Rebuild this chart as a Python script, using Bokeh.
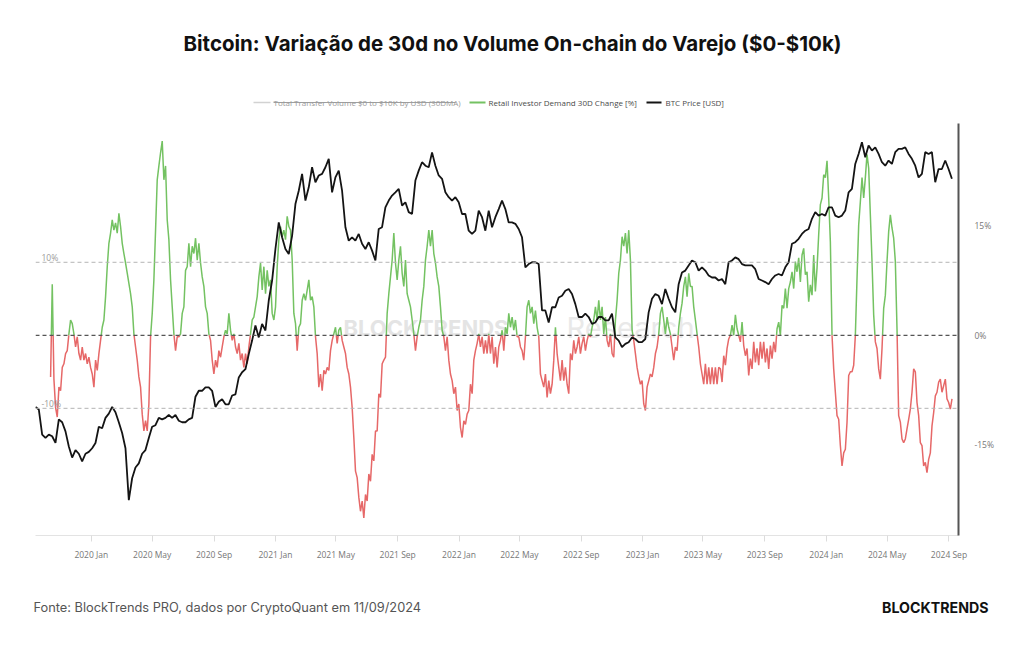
import numpy as np
import pandas as pd
from bokeh.plotting import figure
from bokeh.layouts import column, row
from bokeh.models import (Range1d, LogScale, FixedTicker, DatetimeTickFormatter,
                          PrintfTickFormatter, Span, Label)
from bokeh.embed import file_html
from bokeh.resources import INLINE

# ---------------------------------------------------------------- data
# BTC daily close, sampled every 159 hours, in thousands of USD
btc_start = "2019-09-12"
btc_step_hours = 159
btc_price_k = [
    10.2, 10.0, 8.3, 8.1, 8.3, 8.2, 7.8, 9.3, 9.1, 8.5,
    7.6, 7.0, 7.4, 7.2, 6.8, 7.2, 7.3, 7.5, 7.8, 8.8,
    8.7, 9.4, 9.7, 10.2, 9.8, 9.1, 8.4, 7.5, 5.1, 6.0,
    6.5, 6.7, 7.2, 7.4, 8.1, 8.8, 8.9, 9.4, 9.3, 9.4,
    9.6, 9.4, 9.6, 9.2, 9.1, 9.1, 9.3, 9.4, 11.0, 11.5,
    11.5, 11.8, 11.8, 11.5, 10.2, 10.6, 10.8, 10.4, 10.4, 11.1,
    11.2, 12.7, 13.2, 13.5, 15.1, 16.7, 18.7, 17.1,
    18.9, 18.0, 22.5, 26.1, 33.0, 40.2, 36.0, 33.0, 31.8, 36.4,
    46.1, 50.9, 57.7, 47.3, 52.2, 60.6, 54.2, 57.0, 57.7, 60.6,
    64.5, 50.3, 56.2, 59.1, 50.9, 38.8, 35.1, 36.0, 35.1, 36.9,
    34.3, 33.0, 34.7, 32.6, 30.3, 38.3, 38.8, 45.0, 47.3, 49.1,
    50.3, 51.6, 45.6, 46.7, 43.4, 42.8, 54.9, 59.1, 62.9, 61.3,
    60.6, 67.7, 61.3, 57.0, 55.6, 50.3, 48.5, 47.3, 48.5, 46.7,
    42.8, 42.8, 37.8, 36.9, 37.8, 43.9, 41.8, 37.8, 43.9,
    38.8, 41.8, 44.4, 47.3, 44.4, 40.2, 40.2, 39.8, 38.3, 36.0,
    28.8, 29.5, 29.9, 29.9, 29.5, 20.9, 20.9, 19.1, 21.4, 21.4,
    23.0, 23.3, 24.2, 24.5, 23.6, 21.9, 19.9, 19.9, 20.4, 19.9,
    18.9, 19.1, 19.9, 19.9, 19.4, 19.4, 20.4, 17.1, 16.7, 15.9,
    16.3, 16.5, 17.1, 16.9, 16.5, 16.5, 16.9, 20.6, 22.8, 23.6,
    23.3, 21.9, 24.5, 22.8, 21.4, 20.6, 25.4, 27.7, 28.1, 29.2,
    30.3, 29.9, 28.1, 28.8, 28.1, 27.1, 26.7, 26.7, 26.1,
    26.4, 25.4, 29.9, 30.3, 31.0, 30.6, 29.5, 29.2, 29.2, 29.2,
    28.4, 26.4, 26.1, 25.8, 25.4, 26.4, 27.1, 27.4, 27.1, 28.8,
    29.9, 34.3, 34.7, 35.6, 36.9, 37.8, 38.3, 41.3, 43.4, 42.3,
    42.8, 42.3, 45.0, 45.0, 42.3, 41.8, 42.3, 43.9, 50.3, 51.6,
    62.1, 66.9, 73.0, 65.3, 71.2, 68.6, 70.3, 66.9, 62.9, 61.3,
    63.7, 62.1, 67.8, 69.5, 69.5, 70.3, 66.9, 64.5, 61.3, 56.2,
    57.7, 67.8, 66.9, 67.8, 54.2, 59.8, 59.8, 63.7, 59.8, 55.6,
]

# Retail investor demand ($0-$10k transfers), 30-day change in %, every 79.5 hours
demand_start = "2019-10-12"
demand_step_hours = 79.5
demand_change_pct = [
    # 2019 Oct - 2020 Nov
    -5.7, 7.0, -6.0, -9.9, -11.2, -7.1, -7.6, -4.4, -3.9, -2.5,
    -2.1, 0.2, 2.1, 1.6, 0.2, -1.6, -0.2, -2.5, -3.4, -1.6,
    -3.4, -2.5, -3.9, -3.0, -4.4, -5.3, -7.1, -3.4, -4.8, -2.5,
    -0.7, 1.1, 2.1, 5.3, 9.4, 12.6, 14.0, 15.8, 14.4, 15.4,
    14.0, 16.7, 14.9, 12.6, 11.2, 9.9, 8.5, 7.1, 5.7, 3.9,
    0.2, -1.6, -3.4, -5.7, -7.1, -10.8, -13.1, -11.7, -13.1, -9.4,
    -0.2, 3.0, 7.6, 14.4, 21.3, 23.2, 25.0, 26.6, 21.3, 23.2,
    15.8, 13.1, 7.6, 3.9, 0.2, -2.1, -0.2, -0.2, 0.2, 3.0,
    3.9, 8.9, 9.4, 12.6, 9.4, 12.2, 11.2, 13.3, 10.3, 12.6,
    9.9, 8.0, 6.7, 3.9, 3.0, 0.2, -0.7, -3.4, -5.3, -3.4,
    -4.4, -2.1, -3.0, -1.6, -0.2, 0.7, 0.2, 3.0, 0.7, -0.7,
    0.2, -1.6, -2.5, -1.1, -3.4, -2.5, -4.4, -2.5, -3.9, -1.6,
    0.2, 2.1, 2.5, 3.9, 5.3, 8.0,
    # 2020 Nov - 2022 Feb
    9.9, 6.2, 9.4, 5.7, 8.9, 6.7, 7.6, 3.0, 2.1, 3.9,
    9.4, 13.1, 14.9, 13.5, 14.4, 13.1, 16.3, 14.9, 14.4, 10.3,
    3.0, 1.6, -2.1, 1.1, 1.6, 4.8, 5.7, 4.8, 6.2, 7.6,
    4.8, 5.3, 3.9, -0.2, -2.5, -7.1, -5.3, -7.6, -4.8, -5.3,
    -4.4, -4.8, -2.1, -0.7, 0.2, 1.1, -1.1, 0.7, 1.1, -0.7,
    -1.6, -2.5, -4.4, -5.3, -7.1, -9.9, -14.0, -18.6, -19.5, -22.2,
    -24.1, -22.7, -25.0, -21.8, -22.7, -19.0, -20.0, -16.3, -17.2, -13.1,
    -13.1, -8.0, -8.5, -3.9, -3.4, -3.0, 3.0, 5.7, 8.0, 10.3,
    14.0, 9.9, 7.6, 10.3, 12.2, 8.5, 6.7, 10.3, 5.7, 4.8,
    3.9, 2.1, 0.2, -2.1, -0.2, 1.1, 2.1, 4.8, 6.7, 10.3,
    12.2, 14.4, 12.2, 14.4, 11.2, 9.9, 8.0, 6.7, 3.9, 0.7,
    -0.2, -2.1, -0.2, -3.4, -5.3, -6.2, -8.0, -7.1, -10.3, -9.4,
    -12.6, -14.0, -11.7, -12.2, -10.8, -10.3, -6.7, -8.0, -3.4, -2.1,
    -1.1, 0.2, -1.6, -0.2, -2.5, -0.7, -2.5, 0.2,
    # 2022 Feb - 2023 Jun
    -2.5, -0.2, -3.9, -1.6, -4.4, -1.6, -0.7, 0.7, -2.1, 1.1,
    0.2, 3.0, 1.1, 2.5, 0.7, 2.1, -0.2, -0.2, -1.6, -2.1,
    -3.4, -0.2, 3.9, 4.8, 3.0, 3.9, 1.6, 3.4, 1.1, -0.2,
    -5.3, -6.2, -7.1, -5.3, -8.5, -6.2, -8.0, -6.7, -3.4, 1.1,
    -2.5, -4.4, -6.2, -3.4, -6.2, -4.4, -6.7, -8.0, -2.5, -3.4,
    -0.7, -2.5, -1.6, -0.2, -2.5, -1.1, -0.2, -2.1, -0.7, 0.2,
    -0.2, 1.1, 2.1, 3.9, 2.1, 4.8, 2.1, 3.9, 0.2, 2.5,
    -0.7, -1.6, 0.2, -2.5, -3.0, 2.1, 4.8, 8.5, 10.3, 13.5,
    12.2, 14.0, 11.2, 14.4, 10.3, 0.7, -0.7, -2.5, -4.4, -5.7,
    -6.7, -6.2, -9.4, -10.3, -7.1, -6.2, -5.3, -5.7, -4.4, -2.5,
    -1.6, 0.2, 3.0, 3.9, 2.1, 0.2, 2.5, 1.1, 0.2, -1.6,
    -3.4, -1.6, -2.1, 1.1, 3.0, 4.4, 6.7, 8.0, 5.3, 8.5,
    6.7, 6.7, 3.9, 2.1, 0.2, -1.6, -3.9, -5.3, -6.7, -3.9,
    -6.7, -4.4, -6.7, -4.4, -6.7, -4.4, -6.7, -4.4,
    # 2023 Jun - 2024 Sep
    -4.6, -6.4, -2.8, -4.1, -1.8, -0.5, 0.0, 1.4, 0.0, 2.8,
    0.9, 0.0, -0.9, 1.8, -1.4, -2.8, -1.8, -5.5, -3.2, -4.6,
    -0.9, -3.7, -1.8, -4.1, -0.9, -3.2, -0.9, -3.7, -1.8, -4.6,
    -1.4, -3.2, -0.9, -2.3, 0.9, 1.8, 0.0, 4.1, 3.7, 6.4,
    3.7, 6.4, 7.3, 8.7, 6.4, 10.1, 8.7, 10.6, 7.3, 11.0,
    11.9, 8.3, 8.7, 4.6, 6.9, 5.5, 11.0, 6.0, 9.2, 13.8,
    17.9, 18.8, 22.0, 21.6, 23.9, 18.8, 12.8, 0.0, -4.6, -7.8,
    -11.0, -11.5, -15.1, -17.9, -16.1, -15.6, -11.9, -5.5, -5.0, -5.0,
    -4.1, 0.0, 7.8, 15.1, 18.3, 21.6, 18.8, 21.6, 24.8, 22.9,
    16.5, 10.1, 2.8, -0.9, -1.8, -4.6, -6.0, -1.8, 3.7, 5.5,
    10.1, 14.2, 16.5, 14.7, 13.3, 10.1, 0.9, -11.0, -11.9, -14.2,
    -14.7, -14.2, -12.8, -11.5, -10.1, -7.8, -4.6, -5.0, -9.2, -11.0,
    -14.7, -15.1, -17.9, -17.4, -18.8, -17.0, -16.1, -12.4, -10.6, -8.3,
    -7.8, -6.4, -6.0, -7.8, -6.9, -6.0, -8.7, -9.2, -10.1, -8.7,
]

x_tick_dates = ["2020-01-01", "2020-05-01", "2020-09-01", "2021-01-01", "2021-05-01",
                "2021-09-01", "2022-01-01", "2022-05-01", "2022-09-01", "2023-01-01",
                "2023-05-01", "2023-09-01", "2024-01-01", "2024-05-01", "2024-09-01"]
pct_ticks = [-15, 0, 15]
guide_levels = [10, -10]

title_text = "Bitcoin: Variação de 30d no Volume On-chain do Varejo ($0-$10k)"
legend_labels = ["Total Transfer Volume $0 to $10K by USD (30DMA)",
                 "Retail Investor Demand 30D Change [%]",
                 "BTC Price [USD]"]
source_text = "Fonte: BlockTrends PRO, dados por CryptoQuant em 11/09/2024"
brand_text = "BLOCKTRENDS"

# ---------------------------------------------------------------- series
btc_dates = pd.date_range(btc_start, periods=len(btc_price_k),
                          freq=pd.Timedelta(hours=btc_step_hours))
btc_usd = np.array(btc_price_k) * 1000.0

dem_dates = pd.date_range(demand_start, periods=len(demand_change_pct),
                          freq=pd.Timedelta(hours=demand_step_hours))
dem_ms = dem_dates.values.astype("datetime64[ms]").astype("int64").astype(float)
dem_vals = np.array(demand_change_pct, dtype=float)

# split the demand line into a positive (green) and negative (red) path,
# cutting each segment where it crosses zero
pos_x, pos_y, neg_x, neg_y = [], [], [], []
for i in range(len(dem_vals)):
    x, y = dem_ms[i], dem_vals[i]
    if i > 0:
        x0, y0 = dem_ms[i - 1], dem_vals[i - 1]
        if (y0 >= 0) != (y >= 0):
            xc = x0 + (x - x0) * y0 / (y0 - y)
            if y0 >= 0:
                pos_x += [xc, np.nan]; pos_y += [0.0, np.nan]
                neg_x.append(xc); neg_y.append(0.0)
            else:
                neg_x += [xc, np.nan]; neg_y += [0.0, np.nan]
                pos_x.append(xc); pos_y.append(0.0)
    if y >= 0:
        pos_x.append(x); pos_y.append(y)
    else:
        neg_x.append(x); neg_y.append(y)

# ---------------------------------------------------------------- layout
W = 1024
HEADER_H, MAIN_H, FOOTER_H = 123, 452, 70
FRAME_LEFT, FRAME_RIGHT, AXIS_SPACE = 35, 958, 40
GREEN, RED, BLACK = "#74c262", "#e66868", "#141414"


def text_panel(height):
    """A bare figure whose data units are pixels measured from its top-left."""
    f = figure(width=W, height=height, x_range=Range1d(0, W), y_range=Range1d(height, 0),
               min_border=0, min_border_left=0, min_border_right=0,
               min_border_top=0, min_border_bottom=0,
               x_axis_location=None, y_axis_location=None,
               output_backend="svg", toolbar_location=None)
    f.outline_line_color = None
    f.xgrid.visible = False
    f.ygrid.visible = False
    f.background_fill_color = "white"
    f.border_fill_color = "white"
    return f


def label(fig, text, x, y, size, color, font="Open Sans", style="normal",
          align="left", level="annotation", units="data"):
    fig.add_layout(Label(x=x, y=y, x_units=units, y_units=units, text=text,
                         text_font=font, text_font_size=f"{size}px", text_color=color,
                         text_font_style=style, text_align=align,
                         text_baseline="middle", level=level))


# header: title and legend
header = text_panel(HEADER_H)
label(header, title_text, 512, 43, 20.5, "#111111", font="Inter", style="bold", align="center")

legend_y = 102
header.segment(x0=[253], y0=[legend_y], x1=[270], y1=[legend_y], line_color="#d2d2d2", line_width=1.5)
label(header, legend_labels[0], 273, legend_y - 0.5, 8, "#9a9a9a")
header.segment(x0=[273], y0=[legend_y], x1=[455], y1=[legend_y], line_color="#a0a0a0", line_width=1)
header.segment(x0=[469], y0=[legend_y], x1=[485], y1=[legend_y], line_color=GREEN, line_width=2)
label(header, legend_labels[1], 488, legend_y - 0.5, 8, "#4a4a4a")
header.segment(x0=[646], y0=[legend_y], x1=[661], y1=[legend_y], line_color=BLACK, line_width=2)
label(header, legend_labels[2], 665, legend_y - 0.5, 8, "#4a4a4a")

# main chart
p = figure(width=W, height=MAIN_H, x_axis_type="datetime",
           x_range=Range1d(pd.Timestamp("2019-09-12"), pd.Timestamp("2024-09-20")),
           y_range=Range1d(-27.42, 29.01), y_axis_location="right",
           extra_y_ranges={"price": Range1d(3920, 83900)},
           extra_y_scales={"price": LogScale()},
           min_border_left=FRAME_LEFT, min_border_right=W - FRAME_RIGHT,
           min_border_top=0, min_border_bottom=AXIS_SPACE,
           output_backend="svg", toolbar_location=None)
p.outline_line_color = None
p.background_fill_color = "white"
p.border_fill_color = "white"
p.xgrid.visible = False
p.ygrid.visible = False

xa = p.xaxis[0]
xa.ticker = FixedTicker(ticks=[pd.Timestamp(d).value / 1e6 for d in x_tick_dates])
xa.formatter = DatetimeTickFormatter(days="%Y %b", months="%Y %b", years="%Y %b")
xa.axis_line_color = "#e3e3e3"
xa.major_tick_line_color = "#dcdcdc"
xa.major_tick_in = 0
xa.major_tick_out = 6
xa.minor_tick_line_color = None
xa.major_label_text_color = "#777777"
xa.major_label_text_font = "Open Sans"
xa.major_label_text_font_size = "8.5px"
xa.major_label_standoff = 7

ya = p.yaxis[0]
ya.ticker = FixedTicker(ticks=pct_ticks)
ya.formatter = PrintfTickFormatter(format="%d%%")
ya.axis_line_color = "#555555"
ya.axis_line_width = 2
ya.major_tick_line_color = None
ya.minor_tick_line_color = None
ya.major_label_text_color = "#777777"
ya.major_label_text_font = "Open Sans"
ya.major_label_text_font_size = "8.5px"
ya.major_label_standoff = 10

for lv in guide_levels:
    p.add_layout(Span(location=lv, dimension="width", line_color="#b4b4b4",
                      line_dash="4 3", line_width=1))
p.add_layout(Span(location=0, dimension="width", line_color="#555555",
                  line_dash="4 3", line_width=1.3))

p.line(pos_x, pos_y, line_color=GREEN, line_width=1.5)
p.line(neg_x, neg_y, line_color=RED, line_width=1.5)
p.line(btc_dates, btc_usd, y_range_name="price", line_color=BLACK, line_width=1.8)

# frame-relative screen positions (origin at the frame's bottom-left)
frame_h = MAIN_H - AXIS_SPACE
label(p, "BLOCKTRENDS", 343 - FRAME_LEFT, frame_h - (327 - HEADER_H), 22, "#e4e4e4",
      font="Inter", style="bold", level="underlay", units="screen")
label(p, "Research", 566 - FRAME_LEFT, frame_h - (327 - HEADER_H), 29, "#e9e9e9",
      font="Inter", level="underlay", units="screen")
label(p, "10%", 41 - FRAME_LEFT, frame_h - (257 - HEADER_H), 8.5, "#9a9a9a", units="screen")
label(p, "-10%", 41 - FRAME_LEFT, frame_h - (403 - HEADER_H), 8.5, "#9a9a9a", units="screen")

# footer: source and brand
footer = text_panel(FOOTER_H)
label(footer, source_text, 33, 32, 12.8, "#555555", font="Inter")
label(footer, brand_text, 988, 32, 14.2, "#111111", font="Inter", style="bold", align="right")

# wrapping the text panels in rows keeps their frames from being lined up
# with the chart's frame
layout = column(row(header), p, row(footer), spacing=0)
open("out.html", "w").write(file_html(layout, INLINE))
